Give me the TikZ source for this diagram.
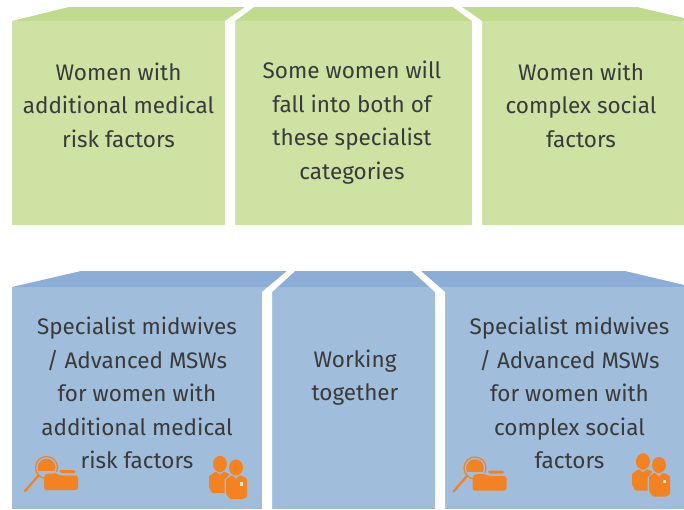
\documentclass[tikz,border=0pt]{standalone}
\usepackage{fontspec}
\setmainfont{Fira Sans}
\definecolor{gface}{HTML}{CEE2A3}
\definecolor{gtop}{HTML}{C0DB8E}
\definecolor{bface}{HTML}{A0BDDC}
\definecolor{btop}{HTML}{8CADD5}
\definecolor{ico}{HTML}{F58220}
\definecolor{txt}{HTML}{3A3A3A}
\tikzset{
 label text/.style={align=center,text=txt,font=\fontsize{22.5}{33.6}\selectfont,inner sep=0pt,anchor=center},
 gap/.style={fill=white,draw=none},
}
\newcommand{\folderico}[2]{%
 \begin{scope}[shift={(#1,#2)}]
  \draw[ico,line width=1.2pt] (46.5,467.5) circle (11);
  \draw[ico,line width=2.2pt,line cap=round] (38.5,475.5) -- (25,491);
  \begin{scope}
   \clip (46.5,467.5) circle (8.8);
   \fill[ico] (37,458) rectangle (57,471);
  \end{scope}
  \fill[ico,rounded corners=1.5pt] (59,470) -- (75,470) -- (76,473) -- (60,473) -- cycle;
  \draw[bface,line width=1.2pt] (44,476) -- (46.5,472.5) -- (56,472.5) -- (60,474.5) -- (77,474.5);
  \fill[ico,rounded corners=2.5pt] (44,490) -- (44,476) -- (47,473.5) -- (56,473.5) -- (60,475.5) -- (78,475.5) -- (78,490) -- cycle;
 \end{scope}}
\newcommand{\peopleico}[2]{%
 \begin{scope}[shift={(#1,#2)}]
  % back person
  \fill[ico] (220,464) ellipse (7 and 8.2);
  \fill[ico,rounded corners=1pt] (209,476) -- (216,471.5) -- (220,474) -- (224,471.5) -- (231,475) -- (231,493) -- (212,493) -- (209,487) -- cycle;
  \draw[bface,line width=.5pt] (216,471) -- (220,474.5) -- (224,471);
  % front person
  \fill[bface] (236,467.5) ellipse (8.2 and 9.2);
  \fill[bface] (224.5,480) -- (232,472) -- (240,472) -- (249,480) -- (249,501) -- (224.5,501) -- cycle;
  \fill[ico] (236,467.5) ellipse (7 and 8);
  \fill[ico,rounded corners=1pt] (226,479) -- (232,475) -- (236,478) -- (240,475) -- (247,478.5) -- (247,497) -- (243,499) -- (230,499) -- (226,494) -- cycle;
  \draw[bface,line width=.5pt] (232,474.5) -- (236,478.5) -- (240,474.5);
  \fill[gface!70!white] (239.5,482) rectangle (243,485.5);
 \end{scope}}
\begin{document}
\begin{tikzpicture}[x=1pt,y=-1pt]
\useasboundingbox (0,0) rectangle (684,509);
% green
\fill[gtop] (12,21) -- (69,7) -- (637,7) -- (684,18) -- (684,21) -- cycle;
\fill[gface] (12,21) rectangle (684,225);
\fill[gap] (225,225) -- (225,21) -- (245,7) -- (254,7) -- (235,21) -- (235,225) -- cycle;
\fill[gap] (472,225) -- (472,21) -- (453,7) -- (462,7) -- (482,21) -- (482,225) -- cycle;
% blue
\fill[btop] (12,287) -- (81,271) -- (625,271) -- (684,285) -- (684,287) -- cycle;
\fill[bface] (12,287) rectangle (684,509);
\fill[gap] (262,509) -- (262,292) -- (287,271) -- (295,271) -- (272,292) -- (272,509) -- cycle;
\fill[gap] (435,509) -- (435,292) -- (412,271) -- (421,271) -- (445,292) -- (445,509) -- cycle;
% labels
\node[label text] (g1) at (118.5,105) {Women with\\additional medical\\risk factors};
\node[label text] (g2) at (352,122.5) {Some women will\\fall into both of\\these specialist\\categories};
\node[label text] (g3) at (581,105) {Women with\\complex social\\factors};
\node[label text] (b1) at (137,393) {Specialist midwives\\/ Advanced MSWs\\for women with\\additional medical\\risk factors};
\node[label text] (b2) at (355,377.5) {Working\\together};
\node[label text] (b3) at (569.5,393) {Specialist midwives\\/ Advanced MSWs\\for women with\\complex social\\factors};
% icons
\folderico{0}{0}
\peopleico{0}{0}
\folderico{428.5}{0.5}
\peopleico{423}{-2.5}
\end{tikzpicture}
\end{document}
